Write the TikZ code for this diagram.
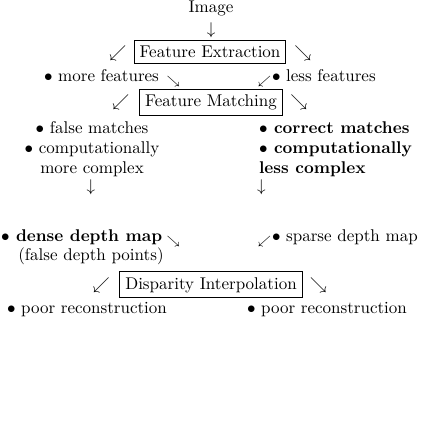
\documentclass[tikz,border=0pt]{standalone}
\begin{document}
\begin{tikzpicture}[x=0.588pt,y=-0.588pt,
  txt/.style={inner sep=0pt, outer sep=0pt},
  stage/.style={draw, line width=0.6pt, inner sep=3.2pt, outer sep=0pt},
  smallarrow/.style={inner sep=0pt, outer sep=0pt, font=\scriptsize}]
\useasboundingbox (0,0) rectangle (422,448);
% top
\node[txt, anchor=base] (img) at (211,12) {Image};
\node[txt, anchor=base] (d0) at (211,34) {$\downarrow$};
\node[stage, anchor=base] (fe) at (210,57.5) {Feature Extraction};
\node[txt, anchor=base] (fesw) at (118,57.5) {$\swarrow$};
\node[txt, anchor=base] (fese) at (303,57.5) {$\searrow$};
% features row
\node[txt, anchor=base west] (mf) at (44,81) {$\bullet$ more features};
\node[smallarrow, anchor=base] (mfse) at (173.5,84.5) {$\searrow$};
\node[smallarrow, anchor=base] (lfsw) at (264.5,84.5) {$\swarrow$};
\node[txt, anchor=base west] (lf) at (272,81) {$\bullet$ less features};
% feature matching
\node[stage, anchor=base] (fm) at (211,106.5) {Feature Matching};
\node[txt, anchor=base] (fmsw) at (121,106.5) {$\swarrow$};
\node[txt, anchor=base] (fmse) at (299,106.5) {$\searrow$};
% left column
\node[txt, anchor=base] (l1) at (92,133) {$\bullet$ false matches};
\node[txt, anchor=base] (l2) at (92,153) {$\bullet$ computationally};
\node[txt, anchor=base] (l3) at (92,173) {more complex};
\node[txt, anchor=base] (ld) at (91,191) {$\downarrow$};
% right column
\node[txt, anchor=base west, font=\bfseries] (r1) at (259,133) {$\bullet$ correct matches};
\node[txt, anchor=base west, font=\bfseries] (r2) at (259,153) {$\bullet$ computationally};
\node[txt, anchor=base west, font=\bfseries] (r3) at (259,173) {less complex};
\node[txt, anchor=base west] (rd) at (257,191) {$\downarrow$};
% depth maps
\node[txt, anchor=base west, font=\bfseries] (dd) at (1,241) {$\bullet$ dense depth map};
\node[smallarrow, anchor=base] (ddse) at (173.5,244.5) {$\searrow$};
\node[txt, anchor=base] (fdp) at (91,260) {(false depth points)};
\node[smallarrow, anchor=base] (sdsw) at (264.5,244.5) {$\swarrow$};
\node[txt, anchor=base west] (sd) at (272,241) {$\bullet$ sparse depth map};
% disparity interpolation
\node[stage, anchor=base] (di) at (211,289) {Disparity Interpolation};
\node[txt, anchor=base] (disw) at (101.5,289) {$\swarrow$};
\node[txt, anchor=base] (dise) at (318.5,289) {$\searrow$};
% results
\node[txt, anchor=base west] (pl) at (7,313) {$\bullet$ poor reconstruction};
\node[txt, anchor=base west] (pr) at (247,313) {$\bullet$ poor reconstruction};
\end{tikzpicture}
\end{document}
